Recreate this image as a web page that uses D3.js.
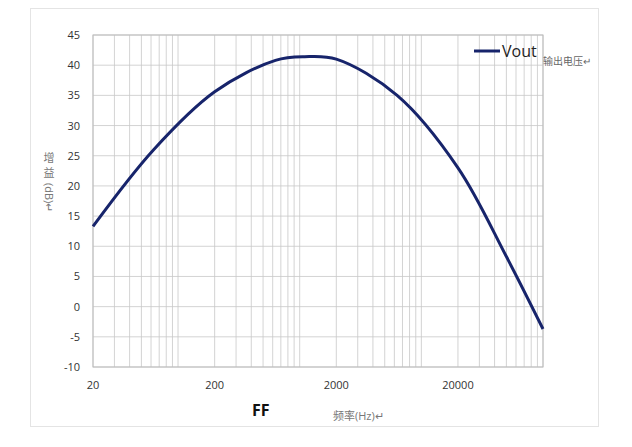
<!DOCTYPE html><html><head><meta charset="utf-8"><script src="https://cdn.jsdelivr.net/npm/d3@7"></script>
<style>body{margin:0;background:#fff}text{font-family:"Open Sans","Noto Sans CJK SC",sans-serif}</style></head><body>
<svg id="c" width="632" height="447"></svg>
<script>
const freq=[20,63,200,632,1100,2000,6320,20000,50000,100000];
const vout=[13.3,26.0,35.6,40.8,41.4,41.0,35.0,23.0,8.3,-3.7];
const yTicks=[-10,-5,0,5,10,15,20,25,30,35,40,45];
const xTicks=[20,200,2000,20000];
const svg=d3.select("#c");
svg.append("rect").attr("x",30.5).attr("y",8.5).attr("width",568).attr("height",418).attr("fill","none").attr("stroke","#e4e4e4");
const x=d3.scaleLog().domain([20,100000]).range([93,543]);
const y=d3.scaleLinear().domain([-10,45]).range([367,35]);
const g=svg.append("g");
const minor=[];for(let d=10;d<=100000;d*=10)for(let k=1;k<10;k++){const v=d*k;if(v>=20&&v<=100000)minor.push(v);}
g.selectAll(".vx").data(minor).join("line").attr("x1",d=>x(d)).attr("x2",d=>x(d)).attr("y1",35).attr("y2",367).attr("stroke","#c8c8c8").attr("stroke-width",0.8);
g.selectAll(".hy").data(yTicks).join("line").attr("x1",93).attr("x2",543).attr("y1",d=>y(d)).attr("y2",d=>y(d)).attr("stroke","#c8c8c8").attr("stroke-width",0.8);
g.append("rect").attr("x",93).attr("y",35).attr("width",450).attr("height",332).attr("fill","none").attr("stroke","#bdbdbd");
svg.selectAll(".yl").data(yTicks).join("text").attr("x",80).attr("y",d=>y(d)+4).attr("text-anchor","end").attr("font-size",11).attr("fill","#333").text(d=>d);
svg.selectAll(".xl").data(xTicks).join("text").attr("x",d=>x(d)).attr("y",389).attr("text-anchor","middle").attr("font-size",11).attr("fill","#333").text(d=>d);
const pts=freq.map((f,i)=>[f,vout[i]]);
const l2=d3.line().x(d=>x(d[0])).y(d=>y(d[1])).curve(d3.curveCatmullRom.alpha(0.5));
svg.append("path").attr("d",l2(pts)).attr("fill","none").attr("stroke","#17246b").attr("stroke-width",3);
svg.append("line").attr("x1",474).attr("x2",500).attr("y1",51).attr("y2",51).attr("stroke","#17246b").attr("stroke-width",3);
svg.append("text").attr("x",502).attr("y",57).attr("font-size",16).attr("fill","#222").text("Vout");
svg.append("text").attr("x",543).attr("y",65).attr("font-size",10).attr("fill","#666").text("输出电压↵");
svg.append("text").attr("x",252).attr("y",416).attr("font-size",16).attr("font-weight","bold").attr("fill","#111").text("FF");
svg.append("text").attr("x",333).attr("y",420).attr("font-size",11).attr("fill","#777").text("频率(Hz)↵");
svg.append("text").attr("x",49).attr("y",162).attr("text-anchor","middle").attr("font-size",11).attr("fill","#777").text("增");
svg.append("text").attr("x",49).attr("y",177).attr("text-anchor","middle").attr("font-size",11).attr("fill","#777").text("益");
svg.append("text").attr("transform","translate(45,183) rotate(90)").attr("font-size",11).attr("fill","#777").text("(dB)↵");
</script></body></html>
